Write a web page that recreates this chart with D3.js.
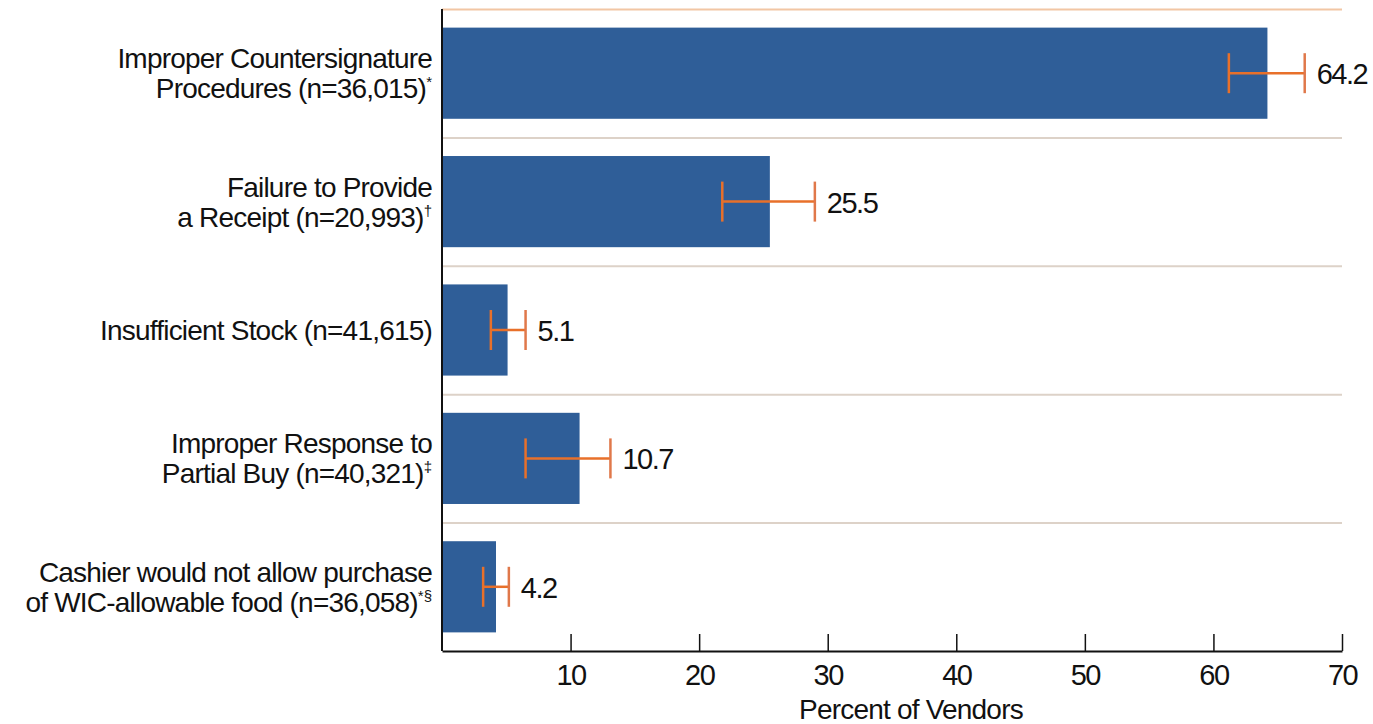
<!DOCTYPE html>
<html>
<meta charset="utf-8">
<script src="https://d3js.org/d3.v7.min.js"></script>
<style>
  body { margin: 0; background: #fff; }
  text { font-family: "Liberation Sans", Arial, sans-serif; fill: #111; }
</style>
<body>
<script>

// data
var labelLines = [
  ["Improper Countersignature", "Procedures (n=36,015)"],
  ["Failure to Provide", "a Receipt (n=20,993)"],
  ["Insufficient Stock (n=41,615)"],
  ["Improper Response to", "Partial Buy (n=40,321)"],
  ["Cashier would not allow purchase", "of WIC-allowable food (n=36,058)"]
];
var marks = ["*", "\u2020", "", "\u2021", "*\u00a7"];
var values = [64.2, 25.5, 5.1, 10.7, 4.2];
var lower = [61.2, 21.8, 3.8, 6.5, 3.2];
var upper = [67.1, 29.0, 6.5, 13.1, 5.2];
var ticks = [10, 20, 30, 40, 50, 60, 70];
var axisTitle = "Percent of Vendors";

var W = 1373, H = 724;
var margin = ({top: 9, left: 442, right: 31, bottom: 73});

var svg = d3.select("body").append("svg")
  .attr("width", W)
  .attr("height", H);

var x = d3.scaleLinear()
  .domain([0, 70])
  .range([margin.left, W - margin.right]);

var idx = d3.range(values.length);
var y = d3.scaleBand()
  .domain(idx)
  .range([margin.top, H - margin.bottom]);

var barH = y.bandwidth() * 0.71;

// row separators
svg.selectAll("line.sep")
  .data(idx)
  .enter().append("line")
  .attr("x1", x(0))
  .attr("x2", x(70))
  .attr("y1", function(d){ return y(d) + 0.5; })
  .attr("y2", function(d){ return y(d) + 0.5; })
  .attr("stroke", function(d){ return d == 0 ? "#f2c6a4" : "#ddd2c8"; })
  .attr("stroke-width", 2);

// bars
svg.selectAll("rect.bar")
  .data(idx)
  .enter().append("rect")
  .attr("x", x(0))
  .attr("y", function(d){ return y(d) + (y.bandwidth() - barH) / 2; })
  .attr("width", function(d){ return x(values[d]) - x(0); })
  .attr("height", barH)
  .attr("fill", "#2f5e98");

// error bars
var eb = svg.selectAll("g.err")
  .data(idx)
  .enter().append("g")
  .attr("transform", function(d){ return "translate(0," + (y(d) + y.bandwidth() / 2) + ")"; });
eb.append("line")
  .attr("x1", function(d){ return x(lower[d]); })
  .attr("x2", function(d){ return x(upper[d]); })
  .attr("stroke", "#e8702a").attr("stroke-width", 2.5);
eb.append("line")
  .attr("x1", function(d){ return x(lower[d]); })
  .attr("x2", function(d){ return x(lower[d]); })
  .attr("y1", -20).attr("y2", 20)
  .attr("stroke", "#e8702a").attr("stroke-width", 2.5);
eb.append("line")
  .attr("x1", function(d){ return x(upper[d]); })
  .attr("x2", function(d){ return x(upper[d]); })
  .attr("y1", -20).attr("y2", 20)
  .attr("stroke", "#e0784a").attr("stroke-width", 2.5);
eb.append("text")
  .attr("x", function(d){ return x(upper[d]) + 12; })
  .attr("y", 11)
  .attr("font-size", 29)
  .attr("letter-spacing", -1.5)
  .text(function(d){ return values[d].toFixed(1); });

// category labels
var lab = svg.selectAll("text.cat")
  .data(idx)
  .enter().append("text")
  .attr("text-anchor", "end")
  .attr("font-size", 28)
  .attr("letter-spacing", -0.8);
lab.each(function(d){
  var t = d3.select(this);
  var lines = labelLines[d];
  var c = y(d) + y.bandwidth() / 2;
  lines.forEach(function(s, i){
    var ts = t.append("tspan")
      .attr("x", margin.left - 10)
      .attr("y", c + 10 + (i - (lines.length - 1) / 2) * 30)
      .text(s);
    if (i == lines.length - 1 && marks[d]) {
      t.append("tspan")
        .attr("font-size", 15)
        .attr("dy", -11)
        .attr("letter-spacing", 0)
        .text(marks[d]);
    }
  });
});

// x axis
var xAx = d3.axisBottom(x)
  .tickValues(ticks)
  .tickSize(-17)
  .tickPadding(8)
  .tickSizeOuter(0);
var xg = svg.append("g")
  .attr("transform", "translate(0," + (H - margin.bottom) + ")")
  .call(xAx);
xg.select(".domain").attr("stroke", "#111").attr("stroke-width", 2);
xg.selectAll(".tick line").attr("stroke", "#111").attr("stroke-width", 1.5);
xg.selectAll(".tick text")
  .attr("font-size", 29)
  .attr("letter-spacing", -1.5)
  .attr("font-family", "Liberation Sans, Arial, sans-serif")
  .attr("fill", "#111")
  .attr("dy", "0.75em")
  .attr("y", 12);

// y axis line
svg.append("line")
  .attr("x1", x(0)).attr("x2", x(0))
  .attr("y1", margin.top).attr("y2", H - margin.bottom)
  .attr("stroke", "#111").attr("stroke-width", 2);

svg.append("text")
  .attr("x", 911)
  .attr("y", 719)
  .attr("text-anchor", "middle")
  .attr("font-size", 28)
  .attr("letter-spacing", -0.8)
  .text(axisTitle);

</script>
</body>
</html>
